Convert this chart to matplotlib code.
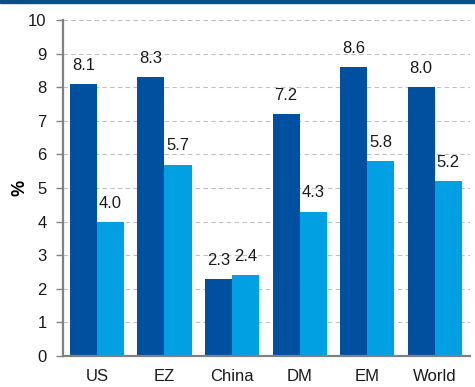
import numpy as np
import matplotlib.pyplot as plt
import matplotlib

matplotlib.use('Agg')
plt.rcParams['font.family'] = ['Liberation Sans', 'DejaVu Sans']

# two series per region
regions = ["US", "EZ", "China", "DM", "EM", "World"]
series_a = [8.1, 8.3, 2.3, 7.2, 8.6, 8.0]
series_b = [4.0, 5.7, 2.4, 4.3, 5.8, 5.2]

dark = "#0050a0"
light = "#00a0e2"

fig = plt.figure(figsize=(4.75, 3.87), dpi=100)
ax = fig.add_axes([0.133, 0.080, 0.856, 0.868])

# thin band across the top
fig.patches.append(plt.Rectangle((0, 0.991), 1, 0.009, transform=fig.transFigure,
                                 color="#0b4f86", zorder=5))

x = np.arange(len(regions))
w = 0.4
b1 = ax.bar(x - w / 2, series_a, w, color=dark, zorder=3)
b2 = ax.bar(x + w / 2, series_b, w, color=light, zorder=3)

for bars, vals in ((b1, series_a), (b2, series_b)):
    for r, v in zip(bars, vals):
        ax.annotate(f"{v:.1f}", (r.get_x() + r.get_width() / 2, v),
                    xytext=(0, 8), textcoords="offset points",
                    ha="center", va="bottom", fontsize=12, color="#1a1a1a")

ax.set_xlim(-0.5, 5.52)
ax.set_ylim(0, 10)
ax.set_yticks(range(0, 11))
ax.set_xticks(x)
ax.set_xticklabels(regions)
ax.tick_params(axis="x", length=0, pad=9, labelsize=12, labelcolor="#1a1a1a")
ax.tick_params(axis="y", length=5, width=1, color="#808080", labelsize=12,
               pad=7, labelcolor="#1a1a1a")
ax.set_ylabel("%", fontsize=13, fontweight="bold", labelpad=0)

ax.grid(axis="y", linestyle=(0, (4, 3)), color="#c0c0c0", linewidth=0.8, zorder=0)
for s in ("top", "right"):
    ax.spines[s].set_visible(False)
for s in ("left", "bottom"):
    ax.spines[s].set_color("#808080")
    ax.spines[s].set_linewidth(1.6)
ax.spines["left"].set_zorder(4)
ax.spines["bottom"].set_zorder(4)

fig.savefig("out.png", dpi=100)
